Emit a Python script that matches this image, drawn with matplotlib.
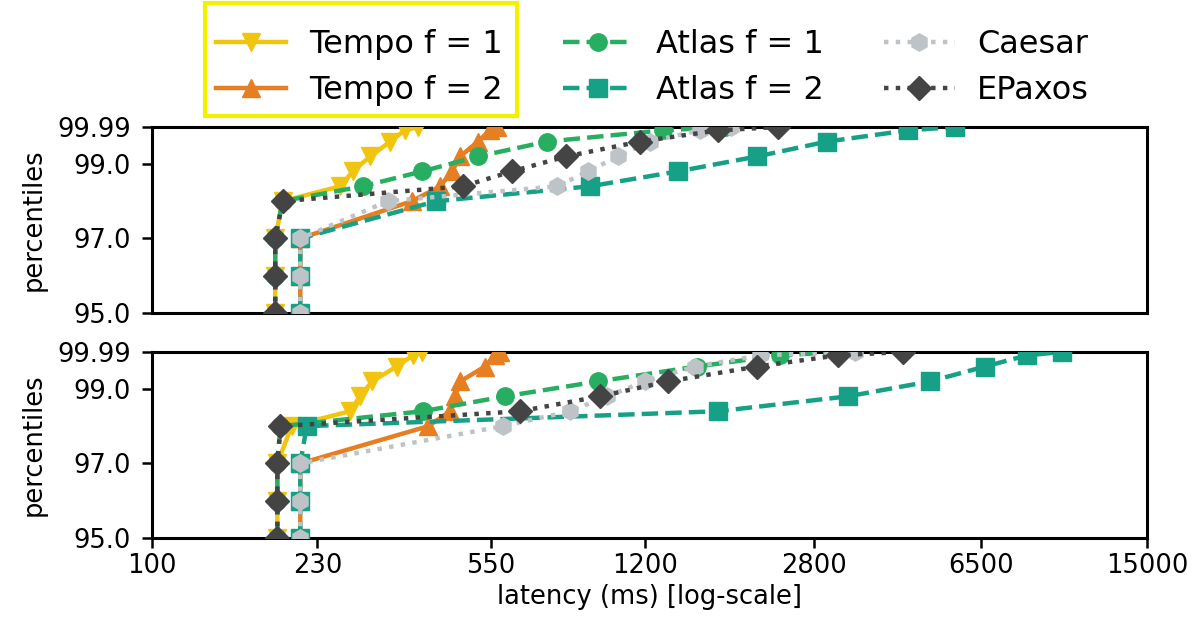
import numpy as np
import matplotlib
matplotlib.use('Agg')
import matplotlib.pyplot as plt
from matplotlib.patches import Rectangle

# percentiles plotted on the y axis (linear scale)
percentiles = [95, 96, 97, 98, 98.4, 98.8, 99.2, 99.6, 99.9, 99.99]

# latency (ms) per percentile, top panel
top_tempo_f1 = [186, 186, 186, 193, 258, 275, 300, 332, 357, 382]
top_tempo_f2 = [211, 211, 211, 370, 427, 453, 472, 516, 549, 568]
top_atlas_f1 = [186, 186, 186, 193, 289, 390, 516, 731, 1311, 1792]
top_atlas_f2 = [211, 211, 211, 418, 908, 1414, 2105, 2994, 4503, 5705]
top_caesar = [211, 211, 211, 328, 769, 899, 1045, 1228, 1580, 1850]
top_epaxos = [186, 186, 186, 193, 479, 613, 805, 1168, 1730, 2340]

# latency (ms) per percentile, bottom panel
bot_tempo_f1 = [188, 188, 188, 202, 271, 285, 303, 343, 372, 390]
bot_tempo_f2 = [211, 211, 211, 402, 449, 460, 472, 535, 563, 577]
bot_atlas_f1 = [188, 188, 188, 191, 391, 592, 945, 1556, 2363, 3198]
bot_atlas_f2 = [211, 211, 211, 218, 1730, 3329, 5030, 6637, 8200, 9780]
bot_caesar = [211, 211, 211, 586, 821, 989, 1198, 1540, 2137, 3449]
bot_epaxos = [188, 188, 188, 191, 638, 955, 1345, 2106, 3165, 4391]

labels = ['Tempo f = 1', 'Tempo f = 2', 'Atlas f = 1', 'Atlas f = 2', 'Caesar', 'EPaxos']
colors = ['#f1c40f', '#e67e22', '#27ae60', '#16a085', '#bdc3c7', '#444444']
markers = ['v', '^', 'o', 's', 'h', 'D']
styles = ['-', '-', '--', '--', ':', ':']

x_ticks = [100, 230, 550, 1200, 2800, 6500, 15000]
y_ticks = [95.0, 97.0, 99.0, 99.99]
y_ticklabels = ['95.0', '97.0', '99.0', '99.99']

panels = [
    [top_tempo_f1, top_tempo_f2, top_atlas_f1, top_atlas_f2, top_caesar, top_epaxos],
    [bot_tempo_f1, bot_tempo_f2, bot_atlas_f1, bot_atlas_f2, bot_caesar, bot_epaxos],
]

fig = plt.figure(figsize=(11.95, 6.31), dpi=100)
ax_top = fig.add_axes([0.1272, 0.504, 0.8326, 0.2947])
ax_bot = fig.add_axes([0.1272, 0.1474, 0.8326, 0.2948])

handles = []
for ax, series in zip([ax_top, ax_bot], panels):
    for i, lat in enumerate(series):
        h, = ax.plot(lat, percentiles, linestyle=styles[i], color=colors[i],
                     marker=markers[i], markersize=12.5 if i != 5 else 12,
                     linewidth=3.2, label=labels[i], zorder=3 + (i == 5))
        if ax is ax_top:
            handles.append(h)
    ax.set_xscale('log')
    ax.set_xlim(100, 15000)
    ax.set_ylim(95.0, 99.99)
    ax.set_yticks(y_ticks)
    ax.set_yticklabels(y_ticklabels)
    ax.set_xticks(x_ticks)
    ax.set_xticklabels([str(t) for t in x_ticks])
    ax.xaxis.set_minor_locator(matplotlib.ticker.NullLocator())
    ax.set_ylabel('percentiles', fontsize=18.5, labelpad=8)
    ax.tick_params(labelsize=18.5, width=1.8, length=7)
    ax.tick_params(axis='y', pad=8)
    for sp in ax.spines.values():
        sp.set_linewidth(2.2)

ax_top.tick_params(axis='x', bottom=False, labelbottom=False)
ax_bot.set_xlabel('latency (ms) [log-scale]', fontsize=18.5, labelpad=4)

fig.legend(handles=handles, loc='center', ncol=3, frameon=False,
           bbox_to_anchor=(0.546, 0.893), fontsize=23, handlelength=2.2,
           handletextpad=0.7, columnspacing=1.9, labelspacing=0.45)

# highlight box round the Tempo entries
fig.patches.append(Rectangle((0.1715, 0.8162), 0.2611, 0.179, transform=fig.transFigure,
                             fill=False, edgecolor='#f2f200', linewidth=3))

fig.savefig('out.png', dpi=100)
